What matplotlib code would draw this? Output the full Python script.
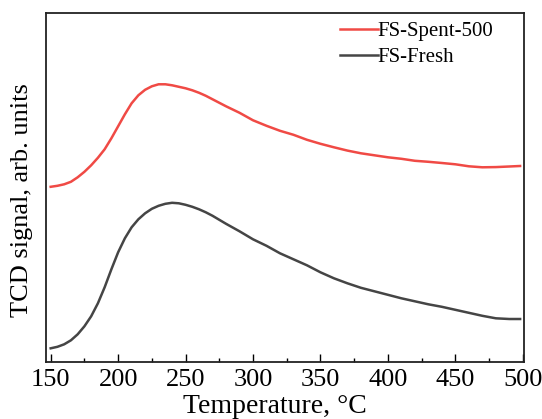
import matplotlib
matplotlib.use("Agg")
import matplotlib.pyplot as plt
from matplotlib.ticker import MultipleLocator

plt.rcParams['font.family'] = ['Liberation Serif', 'DejaVu Serif']

# Data (arbitrary signal units)
temp_spent = [150, 155, 160, 165, 170, 175, 180, 185, 190, 195, 200, 205, 210, 215, 220, 225,
              230, 235, 240, 245, 250, 255, 260, 265, 270, 275, 280, 290, 300, 310, 320,
              330, 340, 350, 360, 370, 380, 390, 400, 410, 420, 430, 440, 450, 460, 470,
              480, 490, 498]
signal_spent = [175.5, 176.5, 178, 180.5, 185, 190.5, 197, 204.5, 213, 224, 236, 248, 259, 267,
                272.5, 276, 278, 278, 277, 275.5, 274, 272, 269.5, 266.5, 263, 259.5, 256,
                249.5, 242, 236.5, 231.5, 227.5, 222.5, 218.5, 215, 211.7, 209, 207, 205,
                203.5, 201.5, 200.5, 199.3, 198, 196, 195, 195.2, 195.8, 196.3]

temp_fresh = [150, 155, 160, 165, 170, 175, 180, 185, 190, 195, 200, 205, 210, 215, 220, 225,
              230, 235, 240, 245, 250, 255, 260, 265, 270, 275, 280, 290, 300, 310, 320,
              330, 340, 350, 360, 370, 380, 390, 400, 410, 420, 430, 440, 450, 460, 470,
              480, 490, 498]
signal_fresh = [14, 15.5, 18, 22, 28, 36, 46, 59, 75, 93, 110, 124, 135, 143, 149, 153.5,
                156.5, 158.5, 159.5, 159, 157.5, 155.5, 153, 150, 146.5, 142.5, 138.5, 131,
                123, 116.5, 109, 103, 97, 90, 84, 79, 74.5, 71, 67.5, 64, 61, 58, 55.5,
                52.5, 49.5, 46.5, 44, 43.3, 43.3]

labels = ['FS-Spent-500', 'FS-Fresh']
colors = ['#f04a45', '#454545']

fig = plt.figure(figsize=(5.42, 4.19), dpi=100)
ax = fig.add_axes([0.0843, 0.1353, 0.9663 - 0.0843, 0.9683 - 0.1353])

ax.plot(temp_spent, signal_spent, color=colors[0], lw=1.8, label=labels[0])
ax.plot(temp_fresh, signal_fresh, color=colors[1], lw=1.8, label=labels[1])

ax.set_xlim(146.3, 500.7)
ax.set_ylim(0, 349)
ax.xaxis.set_major_locator(MultipleLocator(50))
ax.xaxis.set_minor_locator(MultipleLocator(25))
ax.set_yticks([])
ax.tick_params(axis='x', which='major', direction='in', length=6, width=1.0,
               labelsize=19, pad=5, top=False)
ax.tick_params(axis='x', which='minor', direction='in', length=3, width=1.0, top=False)
for s in ax.spines.values():
    s.set_linewidth(1.3)
    s.set_color('#222222')

ax.set_xlabel('Temperature, °C', fontsize=20, va='center')
ax.xaxis.set_label_coords(0.479, -0.126)
ax.set_ylabel('TCD signal, arb. units', fontsize=19, va='center')
ax.yaxis.set_label_coords(-0.05, 0.465)

ax.legend(loc='upper right', frameon=False, fontsize=15, handlelength=1.8,
          handletextpad=0.0, labelspacing=0.3, borderaxespad=0.0,
          bbox_to_anchor=(0.954, 1.0))

fig.savefig('out.png', dpi=100)
